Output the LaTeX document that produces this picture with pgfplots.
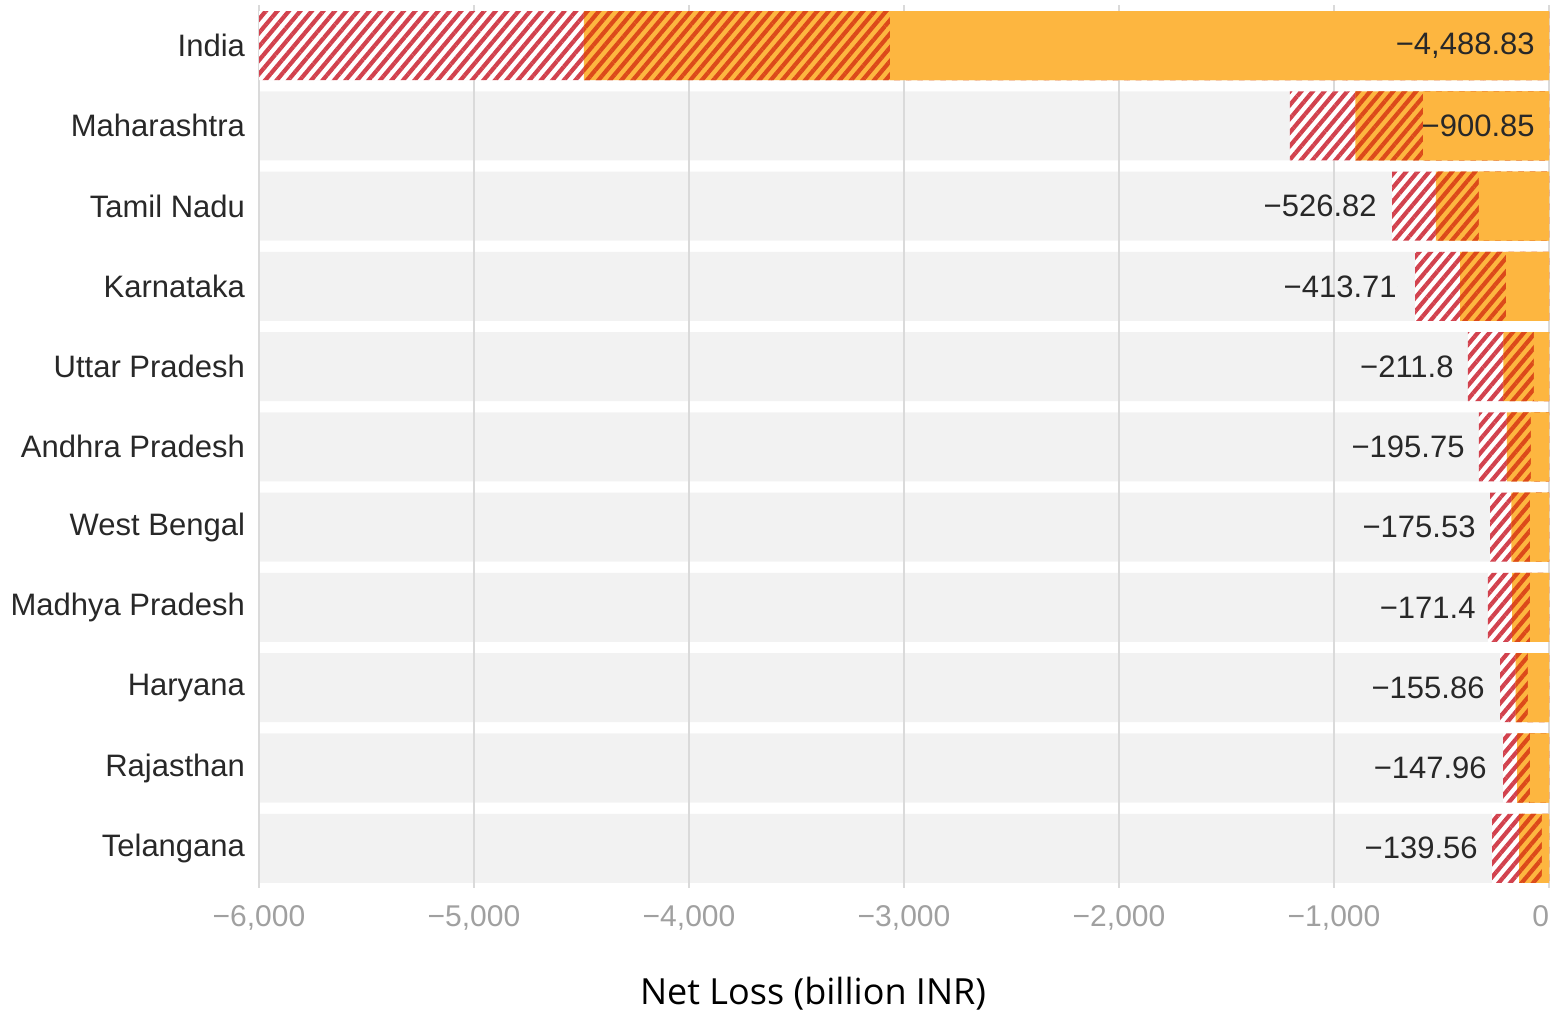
\documentclass[border=0pt]{standalone}
\usepackage{pgfplots}
\pgfplotsset{compat=1.18}
\usepackage{pgfplotstable}
\usepackage{fontspec}
\setmainfont{Liberation Sans}
\newfontfamily\titlefont{Open Sans}
\usetikzlibrary{patterns.meta}
\definecolor{solidOr}{RGB}{253,182,64}
\definecolor{darkStripe}{RGB}{220,74,26}
\definecolor{lightStripe}{RGB}{210,66,78}
\definecolor{bandC}{RGB}{242,242,242}
\definecolor{gridC}{RGB}{218,218,218}
\definecolor{tickC}{RGB}{160,160,160}
\definecolor{labC}{RGB}{40,40,40}

\pgfplotstableread{
row band lower central upper labx label
0 -6000 -3065 -4488.83 -6014 -65 −4,488.83
1 -6000 -586 -900.85 -1205 -65 −900.85
2 -6000 -326 -526.82 -730 -800 −526.82
3 -6000 -200 -413.71 -623 -707 −413.71
4 -6000 -70 -211.8 -377 -442 −211.8
5 -6000 -84 -195.75 -326 -391 −195.75
6 -6000 -88 -175.53 -274 -340 −175.53
7 -6000 -88 -171.4 -284 -340 −171.4
8 -6000 -98 -155.86 -228 -298 −155.86
9 -6000 -88 -147.96 -214 -288 −147.96
10 -6000 -33 -139.56 -265 -330 −139.56
}\data

\begin{document}
\begin{tikzpicture}
\begin{axis}[
  set layers,
  scale only axis, width=645pt, height=441.5pt,
  xmin=-6000, xmax=0, ymin=-0.5, ymax=10.5, y dir=reverse,
  axis line style={draw=none}, major tick length=0pt, tick style={draw=none},
  xtick={-6000,-5000,-4000,-3000,-2000,-1000,0},
  xticklabels={{−6,000},{−5,000},{−4,000},{−3,000},{−2,000},{−1,000},{\makebox[0pt][r]{0}}},
  ytick={0,...,10},
  yticklabels={India,Maharashtra,Tamil Nadu,Karnataka,Uttar Pradesh,Andhra Pradesh,West Bengal,Madhya Pradesh,Haryana,Rajasthan,Telangana},
  xmajorgrids, grid style={draw=gridC, line width=0.8pt},
  xticklabel style={font=\fontsize{15}{18}\selectfont, text=tickC, yshift=-5pt},
  yticklabel style={font=\fontsize{15.5}{18}\selectfont, text=labC, xshift=-3.5pt},
  xlabel={Net Loss (billion INR)},
  xlabel style={font=\titlefont\fontsize{18}{22}\selectfont, text=black, at={(axis description cs:0.4295,0)}, anchor=center, yshift=-52.5pt},
]
\addplot[on layer=axis background, xbar, bar width=0.86, bar shift=0pt, fill=bandC, draw=none] table[x=band, y=row] {\data};
\addplot[xbar, bar width=0.86, bar shift=0pt, draw=none, fill=white,
  postaction={pattern={Lines[angle=50,distance=4.4pt,line width=2.1pt]}, pattern color=lightStripe}] table[x=upper, y=row] {\data};
\addplot[xbar, bar width=0.86, bar shift=0pt, draw=none, fill=solidOr,
  postaction={pattern={Lines[angle=50,distance=4.4pt,line width=2.1pt]}, pattern color=darkStripe}] table[x=central, y=row] {\data};
\addplot[xbar, bar width=0.86, bar shift=0pt, draw=none, fill=solidOr] table[x=lower, y=row] {\data};
\addplot[only marks, mark=*, mark size=0pt,
  nodes near coords, point meta=explicit symbolic,
  nodes near coords style={anchor=east, inner sep=0pt, font=\fontsize{15.5}{18}\selectfont, text=labC}]
  table[x=labx, y=row, meta=label] {\data};
\end{axis}
\pgfresetboundingbox
\path ([xshift=-129.5pt,yshift=-62pt]current axis.south west) rectangle ([xshift=0.5pt,yshift=2.7pt]current axis.north east);
\end{tikzpicture}
\end{document}
